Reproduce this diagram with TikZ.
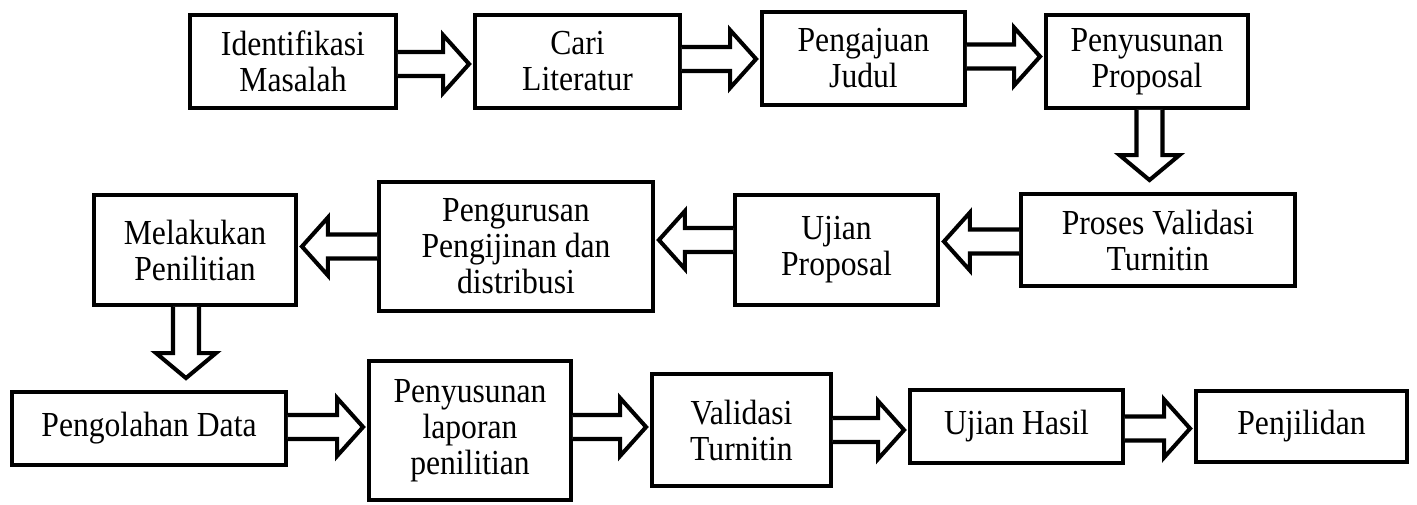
\documentclass[tikz,border=0pt]{standalone}
\usepackage{fontspec}
\setmainfont{Liberation Serif}[FakeStretch=0.9]
\usetikzlibrary{calc}

\tikzset{
  box/.style={draw, line width=2.5pt, align=center, inner sep=0pt,
    font={\fontsize{20}{20.5}\selectfont\lineskiplimit=-20pt}},
  bx/.style 2 args={minimum width=#1cm, minimum height=#2cm},
  blockarr/.style={draw, line width=2.3pt, fill=white},
}

% hollow block arrows: [shift]{from}{to}
\newcommand{\rarr}[3][0]{%
  \draw[blockarr] ($(#2.east)+(0,#1-12)$) -- ($(#2.east -| #3.west)+(-30,#1-12)$) -- ++(0,-17)
    -- ($(#2.east -| #3.west)+(-4,#1)$) -- ($(#2.east -| #3.west)+(-30,#1+29)$) -- ++(0,-17)
    -- ($(#2.east)+(0,#1+12)$);}
\newcommand{\larr}[3][0]{%
  \draw[blockarr] ($(#2.west)+(0,#1-12)$) -- ($(#2.west -| #3.east)+(30,#1-12)$) -- ++(0,-17)
    -- ($(#2.west -| #3.east)+(4,#1)$) -- ($(#2.west -| #3.east)+(30,#1+29)$) -- ++(0,-17)
    -- ($(#2.west)+(0,#1+12)$);}
\newcommand{\darr}[3][0]{%
  \draw[blockarr] ($(#2.south)+(#1-13,0)$) -- ($(#2.south |- #3.north)+(#1-13,-37)$) -- ++(-17,0)
    -- ($(#2.south |- #3.north)+(#1,-12)$) -- ($(#2.south |- #3.north)+(#1+30,-37)$) -- ++(-17,0)
    -- ($(#2.south)+(#1+13,0)$);}

\begin{document}
\begin{tikzpicture}[x=0.02cm, y=-0.02cm]
    \useasboundingbox (0,0) rectangle (1417,504);

    % first row
    \node[box, bx={4.11}{1.85}] (iden)     at (293,61.5)    {Identifikasi\\Masalah};
    \node[box, bx={4.09}{1.85}] (cari)     at (577.5,61.5)  {Cari\\Literatur};
    \node[box, bx={4.05}{1.85}] (judul)    at (863.5,58.5)  {Pengajuan\\Judul};
    \node[box, bx={4.03}{1.85}] (proposal) at (1147,61.5)   {Penyusunan\\Proposal};

    % second row
    \node[box, bx={5.47}{1.83}] (proses)   at (1158,240)    {Proses Validasi\\Turnitin};
    \node[box, bx={4.05}{2.19}] (ujian)    at (836.5,250)   {Ujian\\Proposal};
    \node[box, bx={5.47}{2.57}] (izin)     at (516,246.5)   {Pengurusan\\Pengijinan dan\\distribusi};
    \node[box, bx={4.03}{2.19}] (riset)    at (195,250)     {Melakukan\\Penilitian};

    % third row
    \node[box, bx={5.47}{1.45}] (olah)     at (149,428.5)   {Pengolahan Data};
    \node[box, bx={4.03}{2.77}] (laporan)  at (470,430.5)   {Penyusunan\\laporan\\penilitian};
    \node[box, bx={3.57}{2.23}] (validasi) at (741.5,430)   {Validasi\\Turnitin};
    \node[box, bx={4.25}{1.45}] (hasil)    at (1016.5,426.5){Ujian Hasil};
    \node[box, bx={4.21}{1.41}] (jilid)    at (1301.5,426.5){Penjilidan};

    \rarr[2.5]{iden}{cari}
    \rarr[-2.5]{cari}{judul}
    \rarr[-2]{judul}{proposal}
    \darr[2.5]{proposal}{proses}
    \larr[1.5]{proses}{ujian}
    \larr[-10]{ujian}{izin}
    \larr{izin}{riset}
    \darr[-9]{riset}{olah}
    \rarr[-1.5]{olah}{laporan}
    \rarr[-3.5]{laporan}{validasi}
    \rarr{validasi}{hasil}
    \rarr[2]{hasil}{jilid}

\end{tikzpicture}
\end{document}
